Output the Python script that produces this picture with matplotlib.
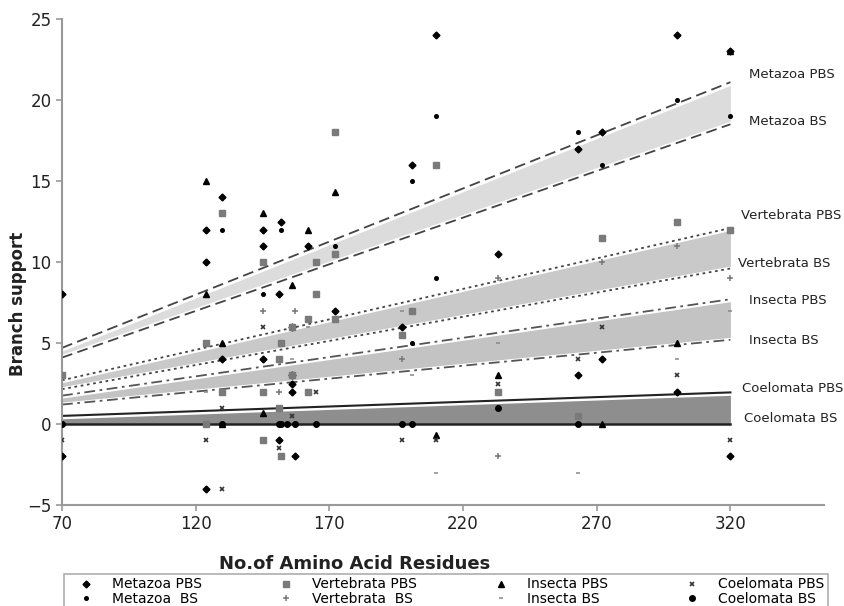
import numpy as np
import matplotlib
matplotlib.use("Agg")
import matplotlib.pyplot as plt

plt.rcParams["font.family"] = ["DejaVu Sans"]

# ---- scatter data (x = no. of amino acid residues, y = branch support)
metazoa_pbs_x = [70, 70, 124, 124, 124, 130, 130, 145, 145, 145, 152, 151, 156, 156, 156, 156,
                 151, 157, 162, 172, 197, 201, 210, 233, 263, 263, 272, 272, 300, 300, 320, 320]
metazoa_pbs_y = [8, -2, 12, 10, -4, 14, 4, 12, 11, 4, 12.5, 8, 6, 3, 2.5, 2,
                 -1, -2, 11, 7, 6, 16, 24, 10.5, 17, 3, 18, 4, 24, 2, 23, -2]

metazoa_bs_x = [130, 145, 152, 172, 201, 201, 210, 210, 263, 272, 300, 320]
metazoa_bs_y = [12, 8, 12, 11, 15, 5, 19, 9, 18, 16, 20, 19]

vert_pbs_x = [70, 124, 124, 130, 130, 145, 145, 145, 152, 151, 151, 152, 156, 156, 162,
              162, 165, 165, 172, 172, 172, 197, 201, 210, 233, 263, 272, 300, 320]
vert_pbs_y = [3, 5, 0, 13, 2, 10, 2, -1, 5, 4, 1, -2, 6, 3, 6.5,
              2, 10, 8, 18, 10.5, 6.5, 5.5, 7, 16, 2, 0.5, 11.5, 12.5, 12]

vert_bs_x = [145, 151, 157, 197, 233, 233, 272, 300, 320]
vert_bs_y = [7, 2, 7, 4, 9, -2, 10, 11, 9]

insecta_pbs_x = [124, 124, 130, 130, 145, 145, 156, 162, 172, 210, 233, 272, 300, 320]
insecta_pbs_y = [15, 8, 5, 0, 13, 0.7, 8.6, 12, 14.3, -0.7, 3, 0, 5, 23]

insecta_bs_x = [124, 156, 162, 197, 201, 210, 233, 263, 300, 320]
insecta_bs_y = [2, 4, 6, 7, 3, -3, 5, -3, 4, 7]

coel_pbs_x = [70, 124, 130, 130, 145, 151, 156, 165, 197, 210, 233, 263, 272, 300, 320]
coel_pbs_y = [-1, -1, 1, -4, 6, -1.5, 0.5, 2, -1, -1, 2.5, 4, 6, 3, -1]

coel_bs_x = [70, 130, 151, 152, 154, 157, 165, 197, 201, 233, 263]
coel_bs_y = [0, 0, 0, 0, 0, 0, 0, 0, 0, 1, 0]

# ---- fitted lines: value at x=70 and at x=320
fit_x = [70, 320]
metazoa_pbs_fit = [4.7, 21.1]
metazoa_bs_fit = [4.1, 18.5]
vert_pbs_fit = [2.7, 12.1]
vert_bs_fit = [2.15, 9.6]
insecta_pbs_fit = [1.75, 7.7]
insecta_bs_fit = [1.2, 5.2]
coel_pbs_fit = [0.5, 1.95]
coel_bs_fit = [0.0, 0.0]

fig = plt.figure(figsize=(8.45, 6.06), dpi=100)
ax = fig.add_axes([62 / 845, 1 - 505 / 606, (824 - 62) / 845, (505 - 19) / 606])

# shaded bands between PBS and BS lines
bands = [(metazoa_pbs_fit, metazoa_bs_fit, "#dcdcdc", 0.2),
         (vert_pbs_fit, vert_bs_fit, "#c9c9c9", 0.15),
         (insecta_pbs_fit, insecta_bs_fit, "#c3c3c3", 0.15),
         (coel_pbs_fit, coel_bs_fit, "#8e8e8e", 0.18)]
for top, bot, col, inset in bands:
    ax.fill_between(fit_x, np.array(top) - inset, np.array(bot) + (inset if bot[1] > 0 else 0),
                    color=col, lw=0, zorder=1)

# fitted lines
ls_dash = (0, (6, 3))
ls_dot = (0, (1.5, 2))
ls_dashdot = (0, (6, 2.5, 1.5, 2.5))
ax.plot(fit_x, metazoa_pbs_fit, color="#444444", lw=1.3, ls=ls_dash, zorder=2)
ax.plot(fit_x, metazoa_bs_fit, color="#444444", lw=1.3, ls=ls_dash, zorder=2)
ax.plot(fit_x, vert_pbs_fit, color="#444444", lw=1.3, ls=ls_dot, zorder=2)
ax.plot(fit_x, vert_bs_fit, color="#444444", lw=1.3, ls=ls_dot, zorder=2)
ax.plot(fit_x, insecta_pbs_fit, color="#555555", lw=1.3, ls=ls_dashdot, zorder=2)
ax.plot(fit_x, insecta_bs_fit, color="#555555", lw=1.3, ls=ls_dashdot, zorder=2)
ax.plot(fit_x, coel_pbs_fit, color="#222222", lw=1.5, zorder=2)
ax.plot(fit_x, coel_bs_fit, color="#222222", lw=1.8, zorder=2)

# scatter series
kw = dict(ls="none", zorder=3)
h1, = ax.plot(metazoa_pbs_x, metazoa_pbs_y, marker="D", ms=3.5, color="black", label="Metazoa PBS", **kw)
h2, = ax.plot(metazoa_bs_x, metazoa_bs_y, marker="o", ms=2.6, color="black", label="Metazoa  BS", **kw)
h3, = ax.plot(vert_pbs_x, vert_pbs_y, marker="s", ms=4, color="#7a7a7a", label="Vertebrata PBS", **kw)
h4, = ax.plot(vert_bs_x, vert_bs_y, marker="+", ms=4.5, mew=1.1, color="#777777", label="Vertebrata  BS", **kw)
h5, = ax.plot(insecta_pbs_x, insecta_pbs_y, marker="^", ms=4.3, color="black", label="Insecta PBS", **kw)
h6, = ax.plot(insecta_bs_x, insecta_bs_y, marker="_", ms=3.5, mew=1.1, color="#888888", label="Insecta BS", **kw)
h7, = ax.plot(coel_pbs_x, coel_pbs_y, marker="x", ms=3.5, mew=1.2, color="#333333", label="Coelomata PBS", **kw)
h8, = ax.plot(coel_bs_x, coel_bs_y, marker="o", ms=4, color="black", label="Coelomata BS", **kw)

# labels at the end of the lines
line_names = ["Metazoa PBS", "Metazoa BS", "Vertebrata PBS", "Vertebrata BS",
              "Insecta PBS", "Insecta BS", "Coelomata PBS", "Coelomata BS"]
label_x = [327, 327, 324, 323, 327, 327, 324.5, 325]
label_y = [21.6, 18.7, 12.9, 9.9, 7.6, 5.15, 2.2, 0.35]
for name, lx, ly in zip(line_names, label_x, label_y):
    ax.text(lx, ly, name, fontsize=9.5, color="#222222", ha="left", va="center", clip_on=False)

ax.set_xlim(70, 355)
ax.set_ylim(-5, 25)
ax.set_xticks([70, 120, 170, 220, 270, 320])
ax.set_yticks([-5, 0, 5, 10, 15, 20, 25])
for s in ["top", "right"]:
    ax.spines[s].set_visible(False)
for s in ["left", "bottom"]:
    ax.spines[s].set_color("#999999")
    ax.spines[s].set_linewidth(1.5)
ax.tick_params(axis="both", colors="#999999", labelcolor="#222222", labelsize=12, length=4, width=1.2)

fig.text(355 / 845, 1 - 564 / 606, "No.of Amino Acid Residues", fontsize=13, fontweight="bold",
         ha="center", va="center", color="#222222")
fig.text(18 / 845, 1 - 304 / 606, "Branch support", fontsize=12, fontweight="bold",
         rotation=90, ha="center", va="center", color="#222222")

handles = [h1, h2, h3, h4, h5, h6, h7, h8]
leg = fig.legend(handles=handles, ncol=4, loc="upper left",
                 bbox_to_anchor=(64 / 845, 1 - 574 / 606, (828 - 64) / 845, 0.0),
                 mode="expand", fontsize=10, frameon=True, fancybox=False,
                 handlelength=2.6, handletextpad=0.6, borderpad=0.25, labelspacing=0.05,
                 borderaxespad=0)
leg.get_frame().set_edgecolor("#999999")
leg.get_frame().set_linewidth(1.2)

fig.savefig("out.png", dpi=100)
